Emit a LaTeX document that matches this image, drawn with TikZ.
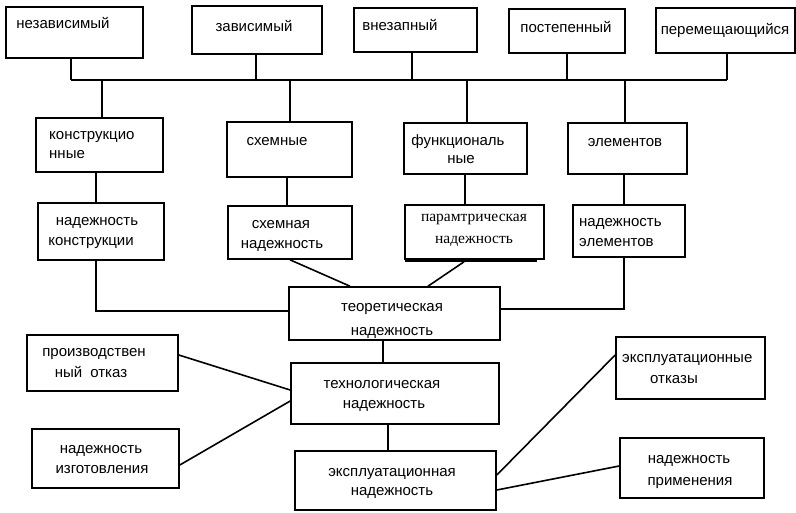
\documentclass[tikz,border=0pt]{standalone}
\usepackage{fontspec}
\setmainfont{Liberation Sans}
\newfontfamily\seriffont{Liberation Serif}
\begin{document}
\begin{tikzpicture}[x=1pt,y=-1pt,
  box/.style={draw=black,line width=1.6pt,rectangle,inner sep=0pt},
  link/.style={draw=black,line width=1.6pt},
  txt/.style={inner sep=0pt,anchor=center,text height=7.4pt,text depth=0pt,font=\fontsize{15}{18}\selectfont}]
\useasboundingbox (0,0) rectangle (796,512);
\fill[white] (0,0) rectangle (796,512);
% top row
\node[box,minimum width=137pt,minimum height=51pt] (a1) at (74.5,32.5) {};
\node[box,minimum width=130pt,minimum height=48pt] (a2) at (257,30) {};
\node[box,minimum width=123pt,minimum height=44pt] (a3) at (415.5,30) {};
\node[box,minimum width=116pt,minimum height=44pt] (a4) at (567,31) {};
\node[box,minimum width=139pt,minimum height=45pt] (a5) at (725.5,30.5) {};
\node[txt] (ta1) at (63,25) {независимый};
\node[txt] (ta2) at (254,28) {зависимый};
\node[txt] (ta3) at (400,27) {внезапный};
\node[txt] (ta4) at (566,29) {постепенный};
\node[txt] (ta5) at (725,31) {перемещающийся};
% bus
\coordinate (j1) at (71,80);
\coordinate (j2) at (256,80);
\coordinate (j3) at (412,80);
\coordinate (j4) at (567,80);
\coordinate (j5) at (727,80);
\coordinate (k1) at (102,80);
\coordinate (k2) at (290,80);
\coordinate (k3) at (467,80);
\coordinate (k4) at (625,80);
\draw[link] (j1) -- (j5);
\draw[link] (a1.south -| j1) -- (j1);
\draw[link] (a2.south -| j2) -- (j2);
\draw[link] (a3.south -| j3) -- (j3);
\draw[link] (a4.south -| j4) -- (j4);
\draw[link] (a5.south -| j5) -- (j5);
% second row
\node[box,minimum width=127pt,minimum height=54pt] (c1) at (99.5,145) {};
\node[box,minimum width=125pt,minimum height=55pt] (c2) at (289.5,149.5) {};
\node[box,minimum width=123pt,minimum height=51pt] (c3) at (465.5,148.5) {};
\node[box,minimum width=119pt,minimum height=51pt] (c4) at (627.5,148.5) {};
\draw[link] (k1) -- (k1 |- c1.north);
\draw[link] (k2) -- (k2 |- c2.north);
\draw[link] (k3) -- (k3 |- c3.north);
\draw[link] (k4) -- (k4 |- c4.north);
\node[txt,anchor=west] (tc1a) at (49,136) {конструкцио};
\node[txt,anchor=west] (tc1b) at (49,155) {нные};
\node[txt] (tc2) at (277,142) {схемные};
\node[txt] (tc3a) at (458,142) {функциональ};
\node[txt] (tc3b) at (461,160) {ные};
\node[txt] (tc4) at (625,143) {элементов};
% third row
\node[box,minimum width=126pt,minimum height=57pt] (d1) at (101,231.5) {};
\node[box,minimum width=124pt,minimum height=53pt] (d2) at (290,232.5) {};
\node[box,minimum width=139pt,minimum height=54pt] (d3) at (474.5,232) {};
\node[box,minimum width=112pt,minimum height=52pt] (d4) at (629,231) {};
\draw[line width=2pt] (d3.south west) ++(1,1.2) -- ++(132,0);
\draw[link] (c1.south -| 96,0) -- (d1.north -| 96,0);
\draw[link] (c2.south -| 287,0) -- (d2.north -| 287,0);
\draw[link] (c3.south -| 465,0) -- (d3.north -| 465,0);
\draw[link] (c4.south -| 624,0) -- (d4.north -| 624,0);
\node[txt] (td1a) at (97,222) {надежность};
\node[txt] (td1b) at (91,242) {конструкции};
\node[txt] (td2a) at (281,225) {схемная};
\node[txt] (td2b) at (282,245) {надежность};
\node[txt,font=\seriffont\fontsize{15.5}{18}\selectfont] (td3a) at (474,218) {парамтрическая};
\node[txt,font=\seriffont\fontsize{15.5}{18}\selectfont] (td3b) at (474,240) {надежность};
\node[txt,anchor=west] (td4a) at (579,223) {надежность};
\node[txt,anchor=west] (td4b) at (579,243) {элементов};
% theoretical
\node[box,minimum width=211pt,minimum height=53pt] (t) at (394.5,313.5) {};
\node[txt] (tta) at (392,308) {теоретическая};
\node[txt] (ttb) at (392,332) {надежность};
\draw[link] (d1.south -| 96,0) |- (t.west |- 0,311);
\draw[link] (d4.south -| 624,0) |- (t.east |- 0,309);
\draw[link] (d2.south -| 290,0) -- (t.north -| 350,0);
\draw[link] (d3.south -| 464,0) ++(0,2) -- (t.north -| 428,0);
% technological
\node[box,minimum width=208pt,minimum height=61pt] (g) at (395,393.5) {};
\node[txt] (tga) at (382,385) {технологическая};
\node[txt] (tgb) at (384,405) {надежность};
\draw[link] (t.south -| 383,0) -- (g.north -| 383,0);
\node[box,minimum width=151pt,minimum height=56pt] (p1) at (102.5,363) {};
\node[txt] (tp1a) at (94,353) {производствен};
\node[txt] (tp1b) at (91,374) {ный\hspace{8pt}отказ};
\node[box,minimum width=147pt,minimum height=59pt] (p2) at (105.5,458.5) {};
\node[txt] (tp2a) at (101,450) {надежность};
\node[txt] (tp2b) at (102,470) {изготовления};
\draw[link] (p1.east |- 0,355) -- (g.west |- 0,390);
\draw[link] (p2.east |- 0,465) -- (g.west |- 0,401);
% exploitation
\node[box,minimum width=201pt,minimum height=59pt] (e) at (395.5,480.5) {};
\node[txt] (tea) at (392,473) {эксплуатационная};
\node[txt] (teb) at (392,492) {надежность};
\draw[link] (g.south -| 388,0) -- (e.north -| 388,0);
\node[box,minimum width=149pt,minimum height=62pt] (r1) at (690.5,368) {};
\node[txt,anchor=west] (tr1a) at (622,359) {эксплуатационные};
\node[txt,anchor=west] (tr1b) at (650,380) {отказы};
\node[box,minimum width=144pt,minimum height=60pt] (r2) at (692,468) {};
\node[txt] (tr2a) at (689,460) {надежность};
\node[txt] (tr2b) at (690,482) {применения};
\draw[link] (e.east |- 0,475) -- (r1.west |- 0,355);
\draw[link] (e.east |- 0,490) -- (r2.west |- 0,466);
\end{tikzpicture}
\end{document}
